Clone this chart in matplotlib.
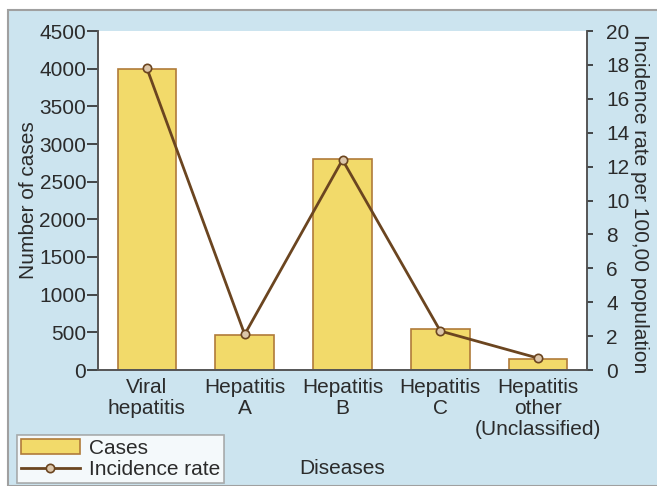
import matplotlib
matplotlib.use("Agg")
import matplotlib.pyplot as plt
from matplotlib.patches import Rectangle

plt.rcParams["font.family"] = ["Liberation Sans", "DejaVu Sans"]

categories = ["Viral\nhepatitis", "Hepatitis\nA", "Hepatitis\nB", "Hepatitis\nC",
              "Hepatitis\nother\n(Unclassified)"]
cases = [4000, 470, 2800, 540, 150]
incidence = [17.8, 2.1, 12.4, 2.3, 0.7]

bg = "#cce4ef"
txt = "#2b2b2b"
bar_col = "#f2da6a"
bar_edge = "#b07b3a"
line_col = "#6b4520"
fs = 15

fig = plt.figure(figsize=(6.57, 4.86), dpi=100)
fig.patch.set_facecolor("white")
fig.add_artist(Rectangle((8 / 657, 0), 1, 1 - 10 / 486, transform=fig.transFigure,
                         facecolor=bg, edgecolor="#a0a0a0", lw=1.5, zorder=0))

ax = fig.add_axes([98 / 657, 1 - 370 / 486, 489 / 657, 339 / 486])
ax.set_facecolor("white")
x = range(len(categories))
bars = ax.bar(x, cases, width=0.6, color=bar_col, edgecolor=bar_edge, lw=1.2, label="Cases")
ax.set_xlim(-0.5, 4.5)
ax.set_ylim(0, 4500)
ax.set_yticks(range(0, 4501, 500))
ax.set_xticks(list(x))
ax.set_xticklabels(categories, linespacing=1.12)
ax.tick_params(axis="x", length=0, pad=6, labelsize=fs, colors=txt)
ax.tick_params(axis="y", direction="out", length=8, width=1.2, labelsize=fs, colors=txt, pad=0.5)
ax.set_ylabel("Number of cases", fontsize=fs, color=txt, va="center")
ax.yaxis.set_label_coords(-0.142, 0.5)
ax.set_xlabel("Diseases", fontsize=fs, color=txt)
ax.xaxis.set_label_coords(0.5, -0.262)
ax.spines["top"].set_visible(False)
for s in ["left", "bottom", "right"]:
    ax.spines[s].set_color("#555555")
    ax.spines[s].set_linewidth(1.2)

ax2 = ax.twinx()
line, = ax2.plot(x, incidence, color=line_col, lw=2, marker="o", ms=6,
                 mfc="#dcc6aa", mec=line_col, mew=1.2, label="Incidence rate")
ax2.set_ylim(0, 20)
ax2.set_yticks(range(0, 21, 2))
ax2.tick_params(axis="y", direction="out", length=4, width=1.2, labelsize=fs, colors=txt, pad=10)
ax2.set_ylabel("Incidence rate per 100,00 population", fontsize=fs, color=txt,
               rotation=270, va="center")
ax2.yaxis.set_label_coords(1.108, 0.49)
ax2.spines["top"].set_visible(False)
for s in ["left", "bottom", "right"]:
    ax2.spines[s].set_color("#555555")
    ax2.spines[s].set_linewidth(1.2)

leg = fig.legend([bars, line], ["Cases", "Incidence rate"], loc="lower left",
                 bbox_to_anchor=(17 / 657, 3 / 486), fontsize=fs, frameon=True,
                 fancybox=False, edgecolor="#999999", borderpad=0.2, labelspacing=0.1,
                 handlelength=2.8, handletextpad=0.45, borderaxespad=0)
leg.get_frame().set_linewidth(1.2)
for t in leg.get_texts():
    t.set_color(txt)

plt.savefig("out.png", dpi=100)
plt.close()
